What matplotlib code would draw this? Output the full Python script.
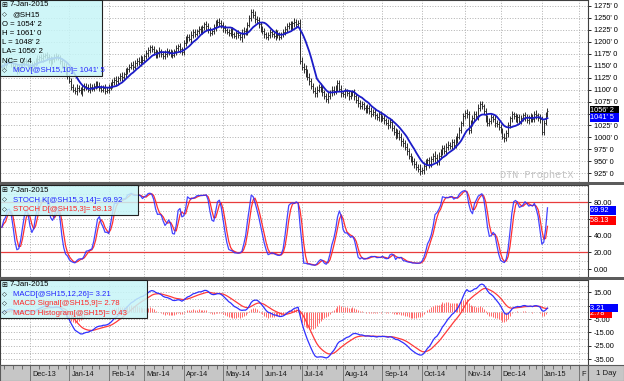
import numpy as np
import pandas as pd
import matplotlib
matplotlib.use("Agg")
import matplotlib.pyplot as plt
from matplotlib.patches import Rectangle
from matplotlib import transforms

W, H = 624, 381
plt.rcParams['font.family'] = ['Liberation Sans', 'DejaVu Sans']
plt.rcParams['axes.linewidth'] = 0.8

# ---------------- data ----------------
first_day = "2013-11-08"
holidays = ["2013-11-28", "2013-12-25", "2014-01-01", "2014-01-20", "2014-02-17",
            "2014-04-18", "2014-05-26", "2014-07-04", "2014-09-01", "2014-11-27",
            "2014-12-25", "2015-01-01", "2015-01-19"]

# daily closes (cents/bu)
close = [
    1148, 1152, 1158, 1162, 1160, 1155, 1150, 1146, 1140, 1145, 1150, 1156, 1160, 1158, 1150,            # Nov-13
    1145, 1150, 1155, 1160, 1164, 1168, 1165, 1170, 1172, 1168, 1162, 1158, 1164, 1168, 1170, 1166,
    1160, 1150, 1148, 1138, 1128,                                                                          # Dec-13
    1118, 1106, 1100, 1096, 1104, 1100, 1095, 1102, 1108, 1105, 1100, 1106, 1102, 1108, 1112, 1108,
    1104, 1100, 1104, 1098, 1100,                                                                          # Jan-14
    1104, 1110, 1116, 1121, 1117, 1124, 1129, 1126, 1132, 1138, 1142, 1148, 1152, 1148, 1155, 1160,
    1158, 1165, 1162,                                                                                      # Feb-14
    1170, 1176, 1182, 1188, 1185, 1178, 1172, 1176, 1180, 1174, 1170, 1175, 1180, 1178, 1176, 1172,
    1180, 1186, 1190, 1184, 1178,                                                                          # Mar-14
    1198, 1205, 1210, 1206, 1214, 1220, 1216, 1222, 1226, 1222, 1230, 1236, 1232, 1225, 1218, 1222,
    1230, 1238, 1242, 1240, 1234,                                                                          # Apr-14
    1228, 1224, 1220, 1218, 1222, 1215, 1212, 1218, 1214, 1210, 1216, 1222, 1220, 1235, 1250, 1262,
    1255, 1248, 1245, 1236, 1226,                                                                          # May-14
    1222, 1215, 1210, 1214, 1220, 1216, 1212, 1218, 1214, 1210, 1216, 1220, 1226, 1232, 1236, 1230,
    1238, 1242, 1236, 1240, 1160,                                                                          # Jun-14
    1148, 1142, 1136, 1126, 1118, 1108, 1098, 1092, 1100, 1106, 1102, 1094, 1086, 1080, 1086, 1094,
    1100, 1096, 1104, 1114, 1102, 1092,                                                                    # Jul-14
    1090, 1096, 1092, 1086, 1092, 1094, 1086, 1078, 1072, 1066, 1070, 1062, 1058, 1062, 1056, 1050,
    1054, 1046, 1042, 1048, 1040,                                                                          # Aug-14
    1040, 1036, 1030, 1026, 1032, 1020, 1012, 1005, 1010, 1000, 992, 988, 980, 972, 962, 955,
    950, 945, 938, 935, 930,                                                                               # Sep-14
    932, 940, 948, 952, 945, 955, 962, 958, 950, 962, 970, 978, 972, 980, 985, 982,
    990, 985, 995, 1002, 1015, 1030, 1045,                                                                 # Oct-14
    1052, 1048, 1015, 1030, 1040, 1050, 1045, 1062, 1070, 1065, 1055, 1040, 1030, 1035, 1042, 1038,
    1030, 1028, 1022,                                                                                      # Nov-14
    1015, 1002, 998, 1010, 1025, 1040, 1048, 1045, 1038, 1042, 1035, 1040, 1046, 1042, 1036, 1040,
    1044, 1038, 1050, 1046, 1040, 1038,                                                                    # Dec-14
    1012, 1030, 1048, 1056.25,                                                                             # Jan-15
]

# extra daily range beyond open/close (cents)
wick = [
    6, 5, 7, 6, 5, 8, 6, 5, 7, 6,
    5, 6, 7, 5, 6, 6, 7, 5, 6, 8,
    5, 6, 7, 5, 6, 6, 8, 5, 7, 6,
    5, 7, 6, 8, 7, 6, 5, 7, 6, 5,
    7, 6, 5, 8, 6, 5, 6, 7, 5, 6,
    6, 5, 7, 6, 5, 8, 6, 7, 5, 6,
    6, 7, 5, 6, 8, 5, 7, 6, 5, 6,
    7, 6, 5, 7, 8, 6, 5, 6, 7, 5,
    6, 5, 7, 6, 8, 5, 6, 7, 6, 5,
    7, 6, 5, 8, 6, 7, 5, 6, 6, 7,
    5, 8, 6, 7, 5, 6, 7, 5, 6, 8,
    7, 6, 5, 6, 7, 5, 8, 6, 7, 6,
    5, 7, 6, 8, 5, 6, 7, 6, 10, 8,
    7, 6, 5, 7, 6, 8, 5, 7, 6, 6,
    7, 5, 6, 7, 6, 5, 8, 6, 7, 5,
    6, 7, 6, 5, 8, 6, 7, 6, 5, 7,
    8, 7, 9, 6, 8, 7, 6, 8, 7, 6,
    7, 8, 6, 7, 9, 6, 7, 8, 6, 7,
    6, 7, 5, 8, 6, 7, 6, 5, 7, 6,
    8, 6, 7, 5, 6, 7, 6, 8, 5, 7,
    6, 8, 7, 6, 7, 5, 8, 6, 7, 6,
    8, 7, 6, 9, 7, 6, 8, 7, 6, 7,
    8, 6, 7, 9, 6, 8, 7, 6, 8, 7,
    6, 9, 7, 8, 6, 7, 6, 8, 7, 6,
    7, 6, 8, 7, 6, 5, 7, 6, 8, 7,
    6, 7, 5, 6, 8, 7, 6, 5, 7, 6,
    6, 7, 5, 8, 6, 7, 6, 5, 7, 6,
    8, 5, 7, 6, 6, 8, 7, 6, 5, 7,
    6, 7, 8, 6, 5, 7, 6, 8, 7, 6,
    5, 6,
]

ma_len = 10
stoch_len, stoch_ks, stoch_ds = 14, 3, 3
macd_fast, macd_slow, macd_sig = 12, 26, 9

price_ticks = [925, 950, 975, 1000, 1025, 1050, 1075, 1100, 1125, 1150, 1175, 1200, 1225, 1250, 1275]
stoch_ticks = [0, 20, 40, 60, 80]
stoch_minor = [10, 30, 50, 70, 90, 100]
macd_ticks = [-35, -25, -15, -5, 5, 15]
macd_minor = [-30, -20, -10, 0, 10, 20]
hidden_labels = {1050, 60, 5}   # covered by the current-value boxes in the reference

leg_date = "7-Jan-2015"
price_legend = ["O = 1054' 2", "H = 1061' 0", "L = 1048' 2", "LA= 1056' 2", "NC= 0' 4"]
symbol = "@SH15"
mov_legend = "MOV[@SH15,10]= 1041' 5"
stoch_legend = ["STOCH K[@SH15,3,14]= 69.92", "STOCH D[@SH15,3]= 58.13"]
macd_legend = ["MACD[@SH15,12,26]= 3.21", "MACD Signal[@SH15,9]= 2.78", "MACD Histogram[@SH15]= 0.43"]

last_vals = {"last": 1056.25, "mov": 1041.625, "k": 69.92, "d": 58.13, "macd": 3.21, "sig": 2.78}
last_txt = {"last": "1056' 2", "mov": "1041' 5", "k": "69.92", "d": "58.13", "macd": "3.21", "sig": "2.78"}

# ---------------- calculations ----------------
days = pd.bdate_range(first_day, "2015-02-13", freq="C", holidays=holidays)
n = len(close)
x = np.arange(n)
c = pd.Series(close, dtype=float)
opn = c.shift(1).fillna(c.iloc[0])
wk = np.array(wick[:n], dtype=float)
hi = pd.Series(np.maximum(opn.values, c.values) + wk)
lo = pd.Series(np.minimum(opn.values, c.values) - wk)
ma = c.rolling(ma_len, min_periods=1).mean()

hh = hi.rolling(stoch_len, min_periods=1).max()
ll = lo.rolling(stoch_len, min_periods=1).min()
raw = 100 * (c - ll) / (hh - ll)
stk = raw.rolling(stoch_ks, min_periods=1).mean()
std = stk.rolling(stoch_ds, min_periods=1).mean()

ema_f = c.ewm(span=macd_fast, adjust=False).mean()
ema_s = c.ewm(span=macd_slow, adjust=False).mean()
macd = ema_f - ema_s
sig = macd.ewm(span=macd_sig, adjust=False).mean()
hist = macd - sig

month_idx = [i for i in range(1, len(days)) if days[i].month != days[i - 1].month]
month_lab = [days[i].strftime('%b-%y') for i in month_idx]
month_lab = [m if not m.startswith('Feb-15') else 'F' for m in month_lab]
week_idx = [i for i in range(1, len(days)) if days[i].weekday() < days[i - 1].weekday()]

xlo, xhi = -1.0, 312.6

# ---------------- figure ----------------
fig = plt.figure(figsize=(W / 100, H / 100), dpi=100)
fig.patch.set_facecolor('white')


def add_ax(x0, y0, w, h):
    return fig.add_axes([x0 / W, 1 - (y0 + h) / H, w / W, h / H])


def frect(x0, y0, w, h, **kw):
    r = Rectangle((x0 / W, 1 - (y0 + h) / H), w / W, h / H, transform=fig.transFigure, **kw)
    fig.add_artist(r)
    return r


def ftext(x0, y0, s, **kw):
    kw.setdefault('va', 'center')
    kw.setdefault('ha', 'left')
    kw.setdefault('fontsize', 5.6)
    kw.setdefault('zorder', 12)
    return fig.text(x0 / W, 1 - y0 / H, s, **kw)


ax1 = add_ax(0, 0, 588, 182)
ax2 = add_ax(0, 185, 588, 92)
ax3 = add_ax(0, 280, 588, 85)
axd = add_ax(0, 365, 588, 16)

grid_kw = dict(color='#a4a4a4', lw=0.6, linestyle=(0, (1.2, 2.0)))
for ax in (ax1, ax2, ax3):
    ax.set_xlim(xlo, xhi)
    ax.set_xticks(month_idx)
    ax.tick_params(axis='x', length=0, labelbottom=False)
    ax.yaxis.tick_right()
    ax.tick_params(axis='y', which='major', direction='out', length=2.5, width=0.6,
                   pad=1.5, labelsize=5.3, colors='black')
    ax.tick_params(axis='y', which='minor', length=0)
    ax.grid(True, which='both', **grid_kw)
    ax.set_axisbelow(True)
    for s in ax.spines.values():
        s.set_color('#404040')
        s.set_linewidth(0.8)

# price panel
ax1.set_ylim(907, 1287)
ax1.set_yticks(price_ticks)
ax1.set_yticklabels(["" if v in hidden_labels else f"{v}' 0" for v in price_ticks])
bar_col = '#2b2b2b'
ax1.vlines(x, lo, hi, color=bar_col, lw=0.7)
ax1.hlines(c, x, x + 0.5, color=bar_col, lw=0.7)
ax1.hlines(opn, x - 0.5, x, color=bar_col, lw=0.7)
ax1.plot(x, ma, color='#1c1cc8', lw=1.3)
ax1.text(500 / 588, 0.012, "DTN ProphetX", transform=ax1.transAxes, family='Liberation Mono',
         fontsize=7.4, color='#c4c4c4', ha='left', va='bottom')

# stochastic panel
ax2.set_ylim(-9.6, 100.8)
ax2.set_yticks(stoch_ticks)
ax2.set_yticklabels(["" if v in hidden_labels else f"{v:.2f}" for v in stoch_ticks])
ax2.set_yticks(stoch_minor, minor=True)
ax2.axhline(80, color='#e83c3c', lw=0.9)
ax2.axhline(20, color='#e83c3c', lw=0.9)
ax2.plot(x, std, color='#ff3030', lw=0.9)
ax2.plot(x, stk, color='#3030ff', lw=0.9, alpha=0.9)

# MACD panel
ax3.set_ylim(-39.3, 24.2)
ax3.set_yticks(macd_ticks)
ax3.set_yticklabels(["" if v in hidden_labels else f"{v:.2f}" for v in macd_ticks])
ax3.set_yticks(macd_minor, minor=True)
ax3.vlines(x, 0, hist, color='#ff6a6a', lw=0.7)
ax3.plot(x, sig, color='#ff3a3a', lw=0.9)
ax3.plot(x, macd, color='#3030ff', lw=0.9)


# current value boxes on the right scale
def value_box(ax, y, txt, fc):
    tr = transforms.blended_transform_factory(ax.transAxes, ax.transData)
    ax.text(1.0 + 2.5 / 588, y, txt + '  ', transform=tr, ha='left', va='center', fontsize=5.3,
            color='white', bbox=dict(boxstyle='square,pad=0.12', fc=fc, ec='none'), zorder=6,
            clip_on=False)


value_box(ax1, last_vals['last'], last_txt['last'], 'black')
value_box(ax1, last_vals['mov'], last_txt['mov'], '#0000ff')
value_box(ax2, last_vals['k'], last_txt['k'] + ' ', '#0000ff')
value_box(ax2, last_vals['d'], last_txt['d'] + ' ', '#ff0000')
value_box(ax3, last_vals['sig'] - 3.5, last_txt['sig'] + ' ', '#ff0000')
value_box(ax3, last_vals['macd'], last_txt['macd'] + '    ', '#0000ff')

# date bar
axd.set_xlim(xlo, xhi)
axd.set_ylim(0, 1)
axd.set_facecolor('#c6c6c6')
axd.set_xticks([])
axd.set_yticks([])
for s in axd.spines.values():
    s.set_color('#5a5a5a')
    s.set_linewidth(0.8)
axd.vlines(week_idx, 0.72, 1.0, color='#4a4a4a', lw=0.5)
axd.vlines(month_idx, 0.0, 1.0, color='#6a6a6a', lw=0.6)
for i, lab in zip(month_idx, month_lab):
    axd.text(i + 1.2, 0.42, lab, fontsize=5.3, color='#1a1a1a', ha='left', va='center')

# right-hand "1 Day" box
frect(588, 365, 36, 16, fc='#c6c6c6', ec='#5a5a5a', lw=0.8, zorder=8)
ftext(606, 373.5, "1 Day", ha='center', fontsize=5.6, color='#1a1a1a')

# panel separators
frect(0, 182, 624, 3, fc='#5c5c5c', ec='none', zorder=9)
frect(0, 277, 624, 3, fc='#5c5c5c', ec='none', zorder=9)

# legend boxes
leg_fc = (0.78, 0.96, 0.97, 0.85)
blue_t, red_t = '#2424ff', '#ff2424'
frect(0, 0, 102, 76, fc=leg_fc, ec='#202020', lw=0.8, zorder=10)
ftext(1.5, 5, "\u229e", family='DejaVu Sans', fontsize=5)
ftext(10, 5, leg_date)
ftext(2, 14.5, "\u25c7", family='DejaVu Sans', fontsize=4.6)
ftext(12.5, 14.5, symbol)
for k, s in enumerate(price_legend):
    ftext(2, 24 + 9.3 * k, s)
ftext(2, 70.5, "\u25c7", family='DejaVu Sans', fontsize=4.6)
ftext(12.5, 70.5, mov_legend, color=blue_t)

frect(0, 185, 138, 30, fc=leg_fc, ec='#202020', lw=0.8, zorder=10)
ftext(1.5, 190, "\u229e", family='DejaVu Sans', fontsize=5)
ftext(10, 190, leg_date)
ftext(2, 200, "\u25c7", family='DejaVu Sans', fontsize=4.6)
ftext(12.5, 200, stoch_legend[0], color=blue_t)
ftext(2, 209.5, "\u25c7", family='DejaVu Sans', fontsize=4.6)
ftext(12.5, 209.5, stoch_legend[1], color=red_t)

frect(0, 280, 147, 38, fc=leg_fc, ec='#202020', lw=0.8, zorder=10)
ftext(1.5, 285, "\u229e", family='DejaVu Sans', fontsize=5)
ftext(10, 285, leg_date)
for k, (s, col) in enumerate(zip(macd_legend, [blue_t, red_t, red_t])):
    ftext(2, 294.5 + 9.3 * k, "\u25c7", family='DejaVu Sans', fontsize=4.6)
    ftext(12.5, 294.5 + 9.3 * k, s, color=col)

fig.savefig("out.png", dpi=100)
